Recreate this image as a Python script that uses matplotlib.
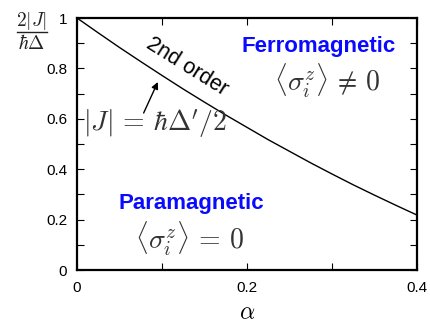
import matplotlib
matplotlib.use("Agg")
import matplotlib.pyplot as plt
from matplotlib.ticker import MultipleLocator
from matplotlib.lines import Line2D

plt.rcParams['font.family'] = ['Liberation Sans', 'DejaVu Sans']
plt.rcParams['mathtext.fontset'] = 'cm'

# data
alpha = [0.0, 0.025, 0.05, 0.075, 0.1, 0.125, 0.15, 0.175, 0.2, 0.225,
         0.25, 0.275, 0.3, 0.325, 0.35, 0.375, 0.4]
boundary = [1.0, 0.941, 0.883, 0.827, 0.772, 0.718, 0.666, 0.615, 0.566,
            0.517, 0.471, 0.425, 0.381, 0.338, 0.297, 0.257, 0.218]
xticks = [0, 0.2, 0.4]
xticklabels = ["0", "0.2", "0.4"]
yticks = [0, 0.2, 0.4, 0.6, 0.8, 1.0]
yticklabels = ["0", "0.2", "0.4", "0.6", "0.8", "1"]

W, H = 431, 325
fig = plt.figure(figsize=(W/100, H/100), dpi=100)
ax = fig.add_axes([77/W, 55/H, 340/W, 252/H])

ax.plot(alpha, boundary, color='black', lw=1.0)

ax.set_xlim(0, 0.4)
ax.set_ylim(0, 1)
ax.set_xticks(xticks)
ax.set_xticklabels(xticklabels)
ax.set_yticks(yticks)
ax.set_yticklabels(yticklabels)
ax.xaxis.set_minor_locator(MultipleLocator(0.1))
ax.yaxis.set_minor_locator(MultipleLocator(0.1))
ax.tick_params(which='both', direction='in', top=True, right=True,
               length=5, width=0.8, labelsize=11)
ax.tick_params(axis='x', pad=8)
ax.tick_params(axis='y', pad=7)
for s in ax.spines.values():
    s.set_linewidth(1.6)

ax.set_xlabel(r'$\alpha$', fontsize=17, labelpad=5)

# y label as a stacked fraction
fig.text(32/W, 1 - 32/H, r'$2|J|$', fontsize=14, color='#222222',
         ha='center', va='bottom')
fig.add_artist(Line2D([17/W, 47/W], [1 - 32/H, 1 - 32/H], color='#222222',
                      lw=1.0, transform=fig.transFigure))
fig.text(32/W, 1 - 34/H, r'$\hbar\Delta$', fontsize=14, color='#222222',
         ha='center', va='top')

ax.text(0.1295, 0.805, '2nd order', fontsize=15.5, rotation=-32,
        ha='center', va='center', rotation_mode='anchor')
ax.text(0.0915, 0.579, r"$|J|\,=\,\hbar\Delta'/2$", fontsize=20, color='#333333',
        ha='center', va='center')
ax.annotate('', xy=(0.0951, 0.746), xytext=(0.0784, 0.623),
            arrowprops=dict(arrowstyle='-|>', color='black', lw=1.0,
                            mutation_scale=10, shrinkA=0, shrinkB=0))
ax.text(0.284, 0.885, 'Ferromagnetic', fontsize=16, fontweight='bold',
        color='#0a0aff', ha='center', va='center')
ax.text(0.294, 0.75, r'$\langle\sigma_i^z\rangle\,\neq\,0$', fontsize=20,
        color='#333333', ha='center', va='center')
ax.text(0.135, 0.262, 'Paramagnetic', fontsize=16, fontweight='bold',
        color='#0a0aff', ha='center', va='center')
ax.text(0.132, 0.125, r'$\langle\sigma_i^z\rangle\,=\,0$', fontsize=20,
        color='#333333', ha='center', va='center')

fig.savefig('out.png', dpi=100)
